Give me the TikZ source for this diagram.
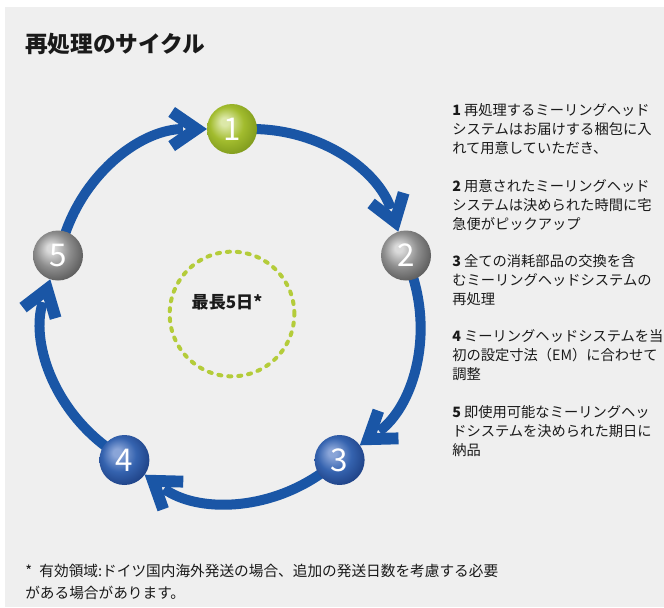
\documentclass[tikz,border=0pt]{standalone}
\usepackage{fontspec}
\setmainfont{Noto Sans CJK JP}
\usetikzlibrary{arrows.meta}
\definecolor{bg}{HTML}{EFEFEF}
\definecolor{txt}{HTML}{1A1A1A}
\definecolor{arrowblue}{HTML}{1A56A6}
\definecolor{dotgreen}{HTML}{B4CC3A}
\definecolor{gA}{HTML}{DCE8A8}\definecolor{gB}{HTML}{A2BC2E}\definecolor{gC}{HTML}{7F9A1C}
\definecolor{yA}{HTML}{DADADA}\definecolor{yB}{HTML}{8E8E8E}\definecolor{yC}{HTML}{5A5A5A}
\definecolor{bA}{HTML}{8AA5D8}\definecolor{bB}{HTML}{3563AF}\definecolor{bC}{HTML}{1E4185}
\pgfdeclareradialshading{ballG}{\pgfpoint{-8bp}{8bp}}{color(0bp)=(gA); color(4bp)=(gA); color(17bp)=(gB); color(30bp)=(gC); color(50bp)=(gC)}
\pgfdeclareradialshading{ballY}{\pgfpoint{-8bp}{8bp}}{color(0bp)=(yA); color(4bp)=(yA); color(17bp)=(yB); color(30bp)=(yC); color(50bp)=(yC)}
\pgfdeclareradialshading{ballB}{\pgfpoint{-8bp}{8bp}}{color(0bp)=(bA); color(4bp)=(bA); color(17bp)=(bB); color(30bp)=(bC); color(50bp)=(bC)}
\pgfdeclarearrow{
  name = Chev,
  setup code = {
    \pgfarrowssettipend{0pt}
    \pgfarrowssetlineend{-18pt}
    \pgfarrowssetbackend{-29pt}
    \pgfarrowshullpoint{0pt}{0pt}
    \pgfarrowshullpoint{-24pt}{16.5pt}
    \pgfarrowshullpoint{-29pt}{9.15pt}
    \pgfarrowshullpoint{-29pt}{-9.15pt}
    \pgfarrowshullpoint{-24pt}{-16.5pt}
  },
  drawing code = {
    \pgfpathmoveto{\pgfqpoint{0pt}{0pt}}
    \pgfpathlineto{\pgfqpoint{-24pt}{16.5pt}}
    \pgfpathlineto{\pgfqpoint{-29pt}{9.15pt}}
    \pgfpathlineto{\pgfqpoint{-15.75pt}{0pt}}
    \pgfpathlineto{\pgfqpoint{-29pt}{-9.15pt}}
    \pgfpathlineto{\pgfqpoint{-24pt}{-16.5pt}}
    \pgfpathclose
    \pgfusepathqfill
  }
}
\pgfdeclarelayer{bgl}
\pgfdeclarelayer{back}
\pgfsetlayers{bgl,back,main}
\begin{document}
\begin{tikzpicture}[x=0.75pt,y=-0.75pt,
  ball/.style={circle, inner sep=0pt, outer sep=0pt, minimum size=37.5pt, shade,
    text=white, font=\fontsize{23.5}{25}\selectfont},
  flow/.style={draw=arrowblue, line width=7.5pt, -{Chev}, shorten <=-4pt,
    bend left=36, looseness=0.94},
  ring/.style={circle, draw=dotgreen, line width=3pt, dash pattern=on 2.3pt off 5.2pt,
    line cap=round, minimum size=93.5pt, inner sep=0pt},
  desc/.style={anchor=north west, inner sep=0pt, align=left, text=txt,
    font=\fontsize{10.7}{14.5}\selectfont},
  foot/.style={anchor=north west, inner sep=0pt, align=left, text=txt,
    font=\fontsize{11}{16.5}\selectfont}]
\useasboundingbox (0,0) rectangle (664,607);
\begin{pgfonlayer}{bgl}
\fill[bg] (5,7) rectangle (664,607);
\end{pgfonlayer}
\node[anchor=west, inner sep=0pt, text=txt, font=\bfseries\fontsize{17}{20}\selectfont] (title) at (25,44) {再処理のサイクル};
\node[ring] (ringc) at (232,314) {};
\node[inner sep=0pt, text=txt, font=\bfseries\fontsize{12.8}{15}\selectfont] (maxd) at (227,302) {最長5日*};
\node[ball, shading=ballG] (b1) at (232,129) {1};
\node[ball, shading=ballY] (b2) at (406,255.5) {2};
\node[ball, shading=ballB] (b3) at (339.6,460) {3};
\node[ball, shading=ballB] (b4) at (124.4,460) {4};
\node[ball, shading=ballY] (b5) at (58,255.5) {5};
\begin{pgfonlayer}{back}
\draw[flow] (b1) to (b2);
\draw[flow] (b2) to (b3);
\draw[flow] (b3) to (b4);
\draw[flow] (b4) to (b5);
\draw[flow] (b5) to (b1);
\end{pgfonlayer}
\node[desc] (t1) at (452,103) {\textbf{1} 再処理するミーリングヘッド\\システムはお届けする梱包に入\\れて用意していただき、};
\node[desc] (t2) at (452,179) {\textbf{2} 用意されたミーリングヘッド\\システムは決められた時間に宅\\急便がピックアップ};
\node[desc] (t3) at (452,254) {\textbf{3} 全ての消耗部品の交換を含\\むミーリングヘッドシステムの\\再処理};
\node[desc] (t4) at (452,329) {\textbf{4} ミーリングヘッドシステムを当\\初の設定寸法（EM）に合わせて\\調整};
\node[desc] (t5) at (452,405) {\textbf{5} 即使用可能なミーリングヘッ\\ドシステムを決められた期日に\\納品};
\node[foot] (fn) at (25,564) {*\hspace{0.5em}有効領域:ドイツ国内海外発送の場合、追加の発送日数を考慮する必要\\がある場合があります。};
\end{tikzpicture}
\end{document}
